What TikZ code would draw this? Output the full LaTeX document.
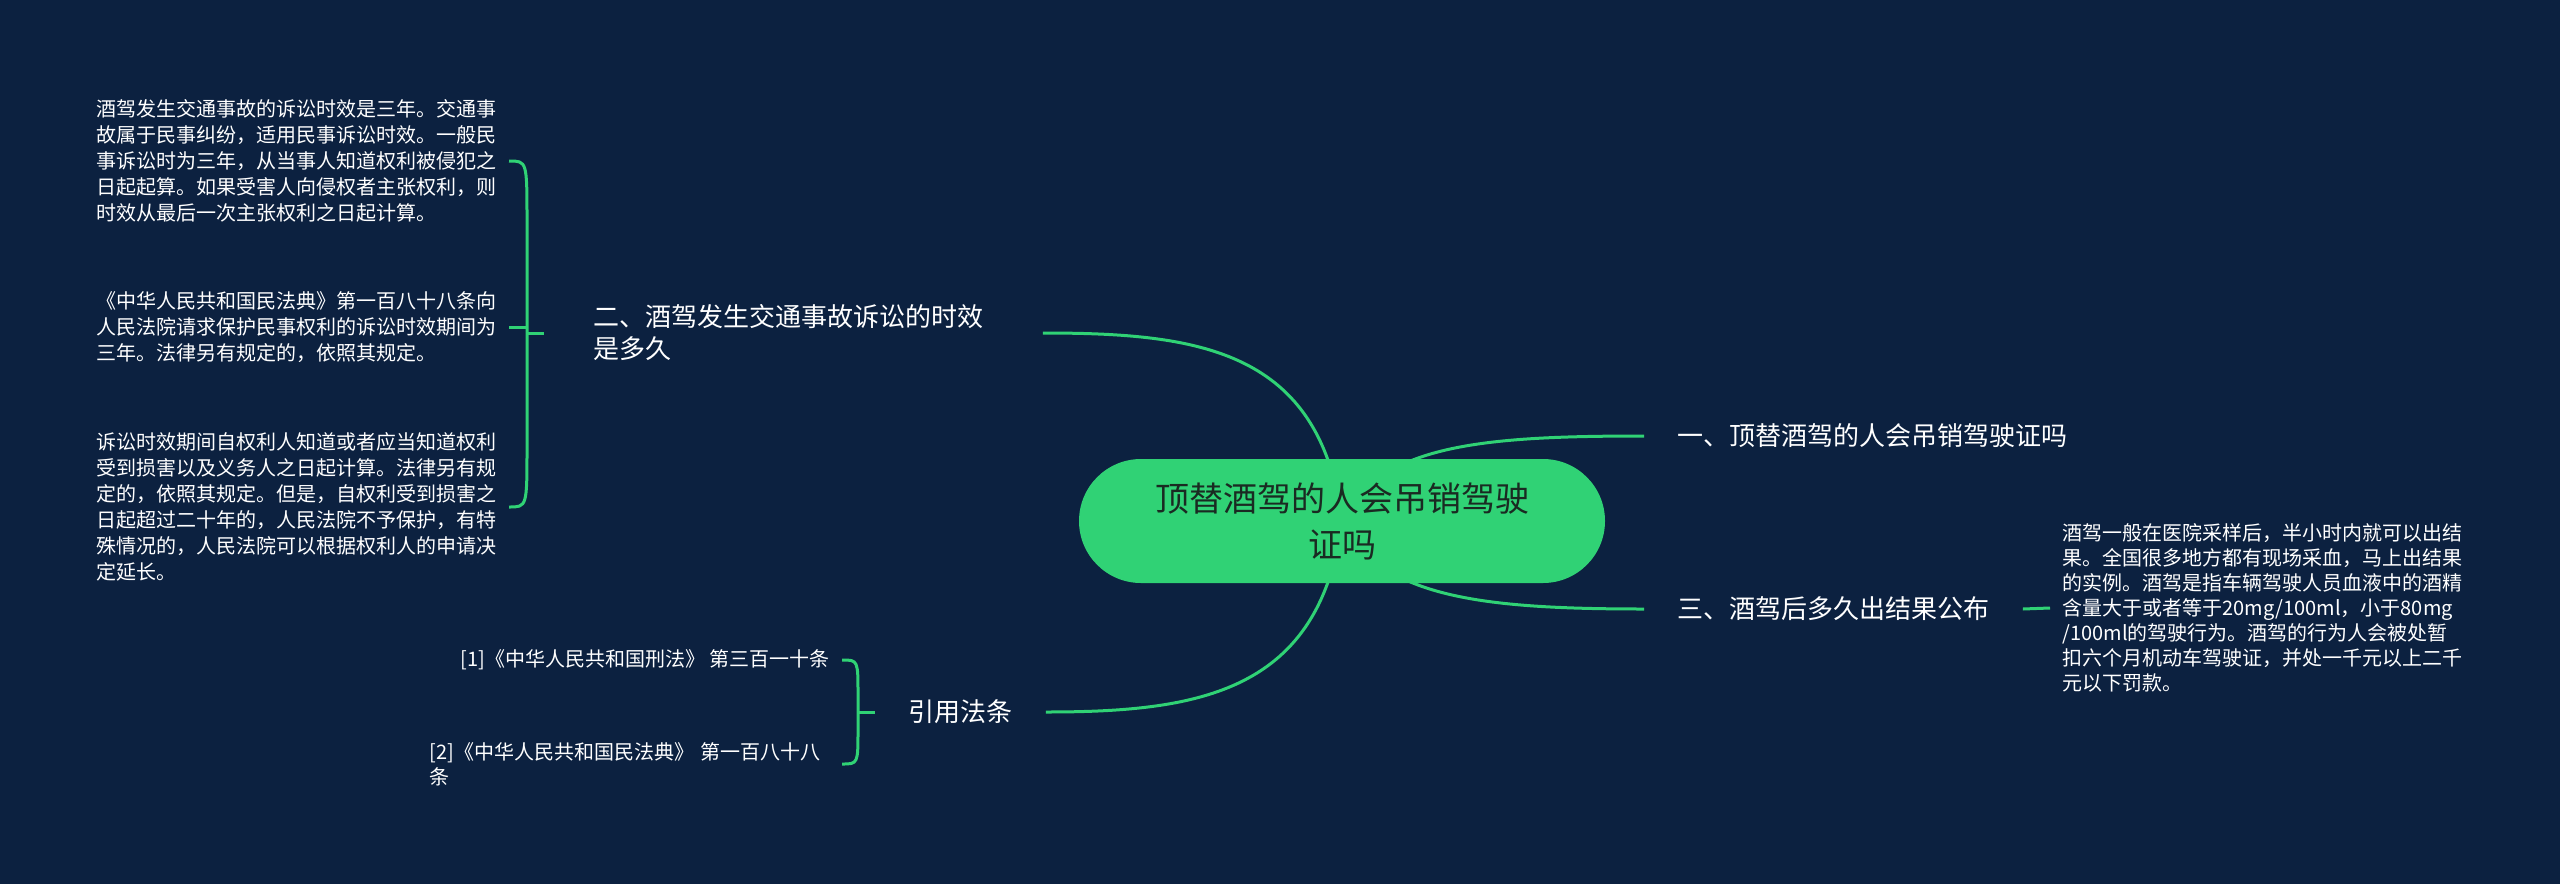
\documentclass[tikz,border=0pt]{standalone}
\usepackage{fontspec}
\setmainfont{Noto Sans CJK SC}
\usetikzlibrary{calc,backgrounds}
\definecolor{bg}{HTML}{0C2140}
\definecolor{mmgreen}{HTML}{30D275}
\definecolor{ctext}{HTML}{1A2A22}
\begin{document}
\begin{tikzpicture}[x=0.5pt,y=-0.5pt,
  leaf/.style={text=white, font=\fontsize{10}{13}\selectfont, align=left, inner xsep=6pt, inner ysep=0pt},
  branch/.style={text=white, font=\fontsize{13}{16}\selectfont, align=left, inner xsep=16.5pt, inner ysep=2pt},
  conn/.style={draw=mmgreen, line width=1.5pt},
  root/.style={fill=mmgreen, rounded corners=31pt, minimum width=263pt, minimum height=62pt, text=ctext, font=\fontsize{17}{23}\selectfont, align=center}
]
\useasboundingbox (0,0) rectangle (2560,884);

\node[root] (c) at (1342,521) {顶替酒驾的人会吊销驾驶\\证吗};

\node[branch, anchor=west] (b1) at (1644,436) {一、顶替酒驾的人会吊销驾驶证吗};
\node[branch, anchor=west] (b3) at (1644,609) {三、酒驾后多久出结果公布};
\node[branch, anchor=center] (b4) at (960.5,712) {引用法条};
\node[branch, anchor=west, text width=200pt, inner xsep=24.5pt] (b2) at (544,333) {二、酒驾发生交通事故诉讼的时效\\是多久};

\node[leaf, anchor=east] (l1) at (509,161) {酒驾发生交通事故的诉讼时效是三年。交通事\\故属于民事纠纷，适用民事诉讼时效。一般民\\事诉讼时为三年，从当事人知道权利被侵犯之\\日起起算。如果受害人向侵权者主张权利，则\\时效从最后一次主张权利之日起计算。};
\node[leaf, anchor=east] (l2) at (509,327) {《中华人民共和国民法典》第一百八十八条向\\人民法院请求保护民事权利的诉讼时效期间为\\三年。法律另有规定的，依照其规定。};
\node[leaf, anchor=east] (l3) at (509,507) {诉讼时效期间自权利人知道或者应当知道权利\\受到损害以及义务人之日起计算。法律另有规\\定的，依照其规定。但是，自权利受到损害之\\日起超过二十年的，人民法院不予保护，有特\\殊情况的，人民法院可以根据权利人的申请决\\定延长。};
\node[leaf, anchor=west, font=\fontsize{10}{12.5}\selectfont] (l4) at (2050,608) {酒驾一般在医院采样后，半小时内就可以出结\\果。全国很多地方都有现场采血，马上出结果\\的实例。酒驾是指车辆驾驶人员血液中的酒精\\含量大于或者等于20mg/100ml，小于80mg\\/100ml的驾驶行为。酒驾的行为人会被处暂\\扣六个月机动车驾驶证，并处一千元以上二千\\元以下罚款。};
\node[leaf, anchor=east] (r1) at (842,660) {[1]《中华人民共和国刑法》 第三百一十条};
\node[leaf, anchor=east, text width=200pt, font=\fontsize{10}{12.5}\selectfont] (r2) at (842,764) {[2]《中华人民共和国民法典》 第一百八十八\\条};

\coordinate (k2) at (527,333);
\coordinate (k4) at (858,712);

\begin{pgfonlayer}{background}
\fill[bg] (0,0) rectangle (2560,884);
\draw[conn] (c.center) .. controls (1380,445) and (1480,436) .. (b1.west);
\draw[conn] (c.center) .. controls (1380,597) and (1480,609) .. (b3.west);
\draw[conn] (c.center) .. controls (1320,350) and (1200,333) .. (b2.east);
\draw[conn] (c.center) .. controls (1320,692) and (1200,712) .. (b4.east);
\draw[conn] (b3.east) -- (l4.west);
\draw[conn] (l1.east) .. controls (l1.east -| k2) .. ($(l1.east -| k2)+(0,60)$) -- ($(l3.east -| k2)+(0,-60)$) .. controls (l3.east -| k2) .. (l3.east);
\draw[conn] (l2.east) -- (l2.east -| k2);
\draw[conn] (k2) -- (b2.west);
\draw[conn] (r1.east) .. controls (r1.east -| k4) .. ($(r1.east -| k4)+(0,35)$) -- ($(r2.east -| k4)+(0,-35)$) .. controls (r2.east -| k4) .. (r2.east);
\draw[conn] (k4) -- (b4.west);
\end{pgfonlayer}
\end{tikzpicture}
\end{document}
